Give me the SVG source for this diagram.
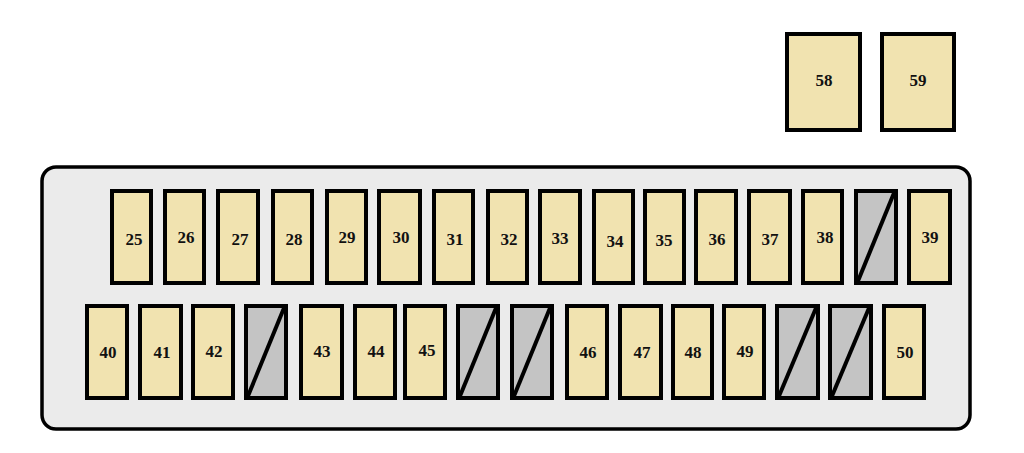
<svg xmlns="http://www.w3.org/2000/svg" width="1024" height="453" viewBox="0 0 1024 453">
<style>
.f{fill:#f1e3b0;stroke:#000;stroke-width:4}
.b{fill:#c4c4c4;stroke:#000;stroke-width:4}
.d{stroke:#000;stroke-width:4;fill:none}
text{font-family:"Liberation Serif","DejaVu Serif",serif;font-weight:bold;font-size:17px;text-anchor:middle;fill:#111}
</style>
<rect width="1024" height="453" fill="#fff"/>
<g id="panel"><rect x="42" y="167" width="928" height="262" rx="14" fill="#ebebeb" stroke="#000" stroke-width="3.5"/></g>
<g id="f58"><rect class="f" x="787" y="34" width="73" height="96"/><text x="824" y="86">58</text></g>
<g id="f59"><rect class="f" x="882" y="34" width="72" height="96"/><text x="918" y="86">59</text></g>
<g id="f25"><rect class="f" x="112" y="191" width="39" height="92"/><text x="134" y="245">25</text></g>
<g id="f26"><rect class="f" x="165" y="191" width="39" height="92"/><text x="186" y="243">26</text></g>
<g id="f27"><rect class="f" x="218" y="191" width="40" height="92"/><text x="240" y="245">27</text></g>
<g id="f28"><rect class="f" x="273" y="191" width="39" height="92"/><text x="294" y="245">28</text></g>
<g id="f29"><rect class="f" x="327" y="191" width="39" height="92"/><text x="347" y="243">29</text></g>
<g id="f30"><rect class="f" x="379" y="191" width="41" height="92"/><text x="401" y="243">30</text></g>
<g id="f31"><rect class="f" x="434" y="191" width="39" height="92"/><text x="455" y="245">31</text></g>
<g id="f32"><rect class="f" x="488" y="191" width="39" height="92"/><text x="509" y="245">32</text></g>
<g id="f33"><rect class="f" x="540" y="191" width="40" height="92"/><text x="560" y="244">33</text></g>
<g id="f34"><rect class="f" x="594" y="191" width="39" height="92"/><text x="615" y="247">34</text></g>
<g id="f35"><rect class="f" x="645" y="191" width="39" height="92"/><text x="664" y="246">35</text></g>
<g id="f36"><rect class="f" x="696" y="191" width="40" height="92"/><text x="717" y="245">36</text></g>
<g id="f37"><rect class="f" x="749" y="191" width="41" height="92"/><text x="770" y="245">37</text></g>
<g id="f38"><rect class="f" x="803" y="191" width="39" height="92"/><text x="825" y="243">38</text></g>
<g id="blank1"><rect class="b" x="856" y="191" width="40" height="92"/><path class="d" d="M858 281L894 193"/></g>
<g id="f39"><rect class="f" x="909" y="191" width="41" height="92"/><text x="930" y="243">39</text></g>
<g id="f40"><rect class="f" x="87" y="306" width="40" height="92"/><text x="108" y="358">40</text></g>
<g id="f41"><rect class="f" x="140" y="306" width="41" height="92"/><text x="162" y="358">41</text></g>
<g id="f42"><rect class="f" x="193" y="306" width="40" height="92"/><text x="214" y="357">42</text></g>
<g id="blank2"><rect class="b" x="246" y="306" width="40" height="92"/><path class="d" d="M248 396L284 308"/></g>
<g id="f43"><rect class="f" x="301" y="306" width="41" height="92"/><text x="322" y="357">43</text></g>
<g id="f44"><rect class="f" x="355" y="306" width="40" height="92"/><text x="376" y="357">44</text></g>
<g id="f45"><rect class="f" x="405" y="306" width="40" height="92"/><text x="427" y="356">45</text></g>
<g id="blank3"><rect class="b" x="458" y="306" width="40" height="92"/><path class="d" d="M460 396L496 308"/></g>
<g id="blank4"><rect class="b" x="512" y="306" width="40" height="92"/><path class="d" d="M514 396L550 308"/></g>
<g id="f46"><rect class="f" x="567" y="306" width="40" height="92"/><text x="588" y="358">46</text></g>
<g id="f47"><rect class="f" x="620" y="306" width="41" height="92"/><text x="642" y="358">47</text></g>
<g id="f48"><rect class="f" x="673" y="306" width="39" height="92"/><text x="693" y="358">48</text></g>
<g id="f49"><rect class="f" x="724" y="306" width="40" height="92"/><text x="745" y="357">49</text></g>
<g id="blank5"><rect class="b" x="777" y="306" width="41" height="92"/><path class="d" d="M779 396L816 308"/></g>
<g id="blank6"><rect class="b" x="830" y="306" width="41" height="92"/><path class="d" d="M832 396L869 308"/></g>
<g id="f50"><rect class="f" x="884" y="306" width="40" height="92"/><text x="905" y="358">50</text></g>
<g id="connectors"></g>
</svg>
